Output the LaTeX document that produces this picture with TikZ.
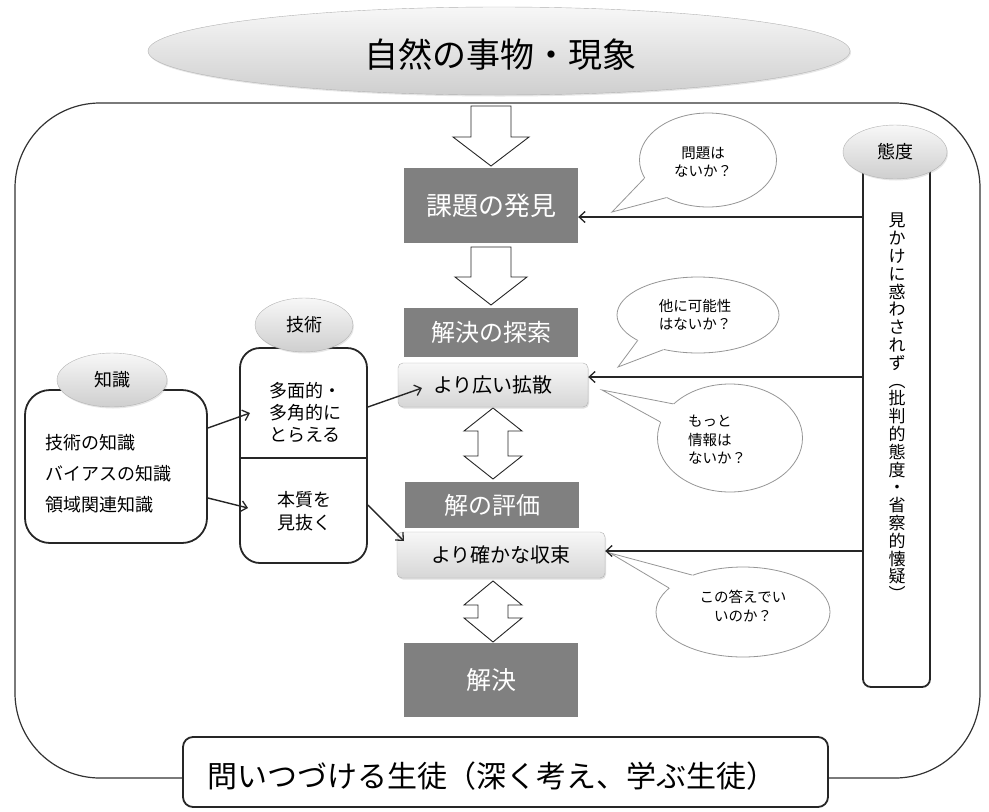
\documentclass[tikz,border=0pt]{standalone}
\usepackage{fontspec}
\setmainfont{Noto Sans CJK JP}
\usetikzlibrary{shapes.geometric,arrows.meta,shadows}
\newcommand\fsz[2]{\fontsize{#1pt}{#2pt}\selectfont}
\definecolor{boxgray}{RGB}{128,128,128}
\definecolor{bubbleline}{RGB}{150,150,150}
\begin{document}
\begin{tikzpicture}[x=1pt,y=-1pt,
  hollow/.style={draw=black!85, line width=0.9pt, fill=white, line join=miter},
  darkbox/.style={rectangle, fill=boxgray, text=white, inner sep=0pt},
  lightbox/.style={rectangle, rounded corners=5pt, draw=gray!60, top color=gray!6, bottom color=gray!32, inner sep=0pt, drop shadow={opacity=0.25,shadow xshift=1pt,shadow yshift=-1.5pt}},
  oval/.style={ellipse, draw=gray!60, top color=gray!6, bottom color=gray!38, inner sep=0pt, drop shadow={opacity=0.2,shadow xshift=1pt,shadow yshift=-1.5pt}},
  roundbox/.style={rectangle, draw=black!85, line width=1.8pt, inner sep=0pt},
  bubble/.style={ellipse, draw=bubbleline, line width=0.8pt, fill=white, inner sep=0pt},
  tailline/.style={draw=bubbleline, line width=0.8pt},
  arr/.style={draw=black!85, line width=1.4pt, -{Straight Barb[length=6pt,width=11pt,line width=1.3pt]}},
  btext/.style={font=\fsz{14.5}{18.5}, inner sep=0pt}
]
\useasboundingbox (0,0) rectangle (989,812);
% outer frame
\node[draw=black!80, line width=1.2pt, rounded corners=85pt, minimum width=965pt, minimum height=675pt, inner sep=0pt] (frame) at (497.5,440.5) {};
% top ellipse
\node[oval, minimum width=702pt, minimum height=88pt] (shizen) at (499,51) {};
\node[font=\fsz{34}{40}, inner sep=0pt] (shizentext) at (500,55) {自然の事物・現象};
% hollow arrows
\draw[hollow] (471,106) -- (511,106) -- (511,137) -- (529,137) -- (491,166) -- (453,137) -- (471,137) -- cycle;
\draw[hollow] (471,247) -- (511,247) -- (511,277) -- (527,277) -- (491,305) -- (455,277) -- (471,277) -- cycle;
\draw[hollow] (493,408) -- (522,431) -- (508,431) -- (508,456) -- (522,456) -- (493,479) -- (464,456) -- (478,456) -- (478,431) -- (464,431) -- cycle;
\draw[hollow] (493,581) -- (522,605) -- (508,605) -- (508,618) -- (522,618) -- (493,642) -- (464,618) -- (478,618) -- (478,605) -- (464,605) -- cycle;
% central boxes
\node[darkbox, minimum width=174pt, minimum height=75pt, font=\fsz{26}{30}] (kadai) at (491,205.5) {課題の発見};
\node[darkbox, minimum width=174pt, minimum height=49pt, font=\fsz{24}{28}] (tansaku) at (491,332.5) {解決の探索};
\node[lightbox, minimum width=190pt, minimum height=44pt, font=\fsz{20}{24}] (kakusan) at (493,385) {より広い拡散};
\node[darkbox, minimum width=174pt, minimum height=46pt, font=\fsz{24}{28}] (hyoka) at (492,505) {解の評価};
\node[lightbox, minimum width=208pt, minimum height=46pt, font=\fsz{20}{24}] (shusoku) at (501,555) {より確かな収束};
\node[darkbox, minimum width=174pt, minimum height=74pt, font=\fsz{25}{29}] (kaiketsu) at (491,680) {解決};
% speech bubbles
\node[bubble, minimum width=137pt, minimum height=94pt] (b1) at (708,160) {};
\node[bubble, minimum width=162pt, minimum height=76pt] (b2) at (698,315) {};
\node[bubble, minimum width=145pt, minimum height=108pt] (b3) at (730,438) {};
\node[bubble, minimum width=174pt, minimum height=90pt] (b4) at (743,612) {};
\coordinate (tip1) at (612,212);
\coordinate (tip2) at (618,367);
\coordinate (tip3) at (602,390);
\coordinate (tip4) at (610,553);
\fill[white] (b1.center) -- (b1.196) -- (tip1) -- (b1.222) -- cycle;
\draw[tailline] (b1.196) -- (tip1) -- (b1.222);
\fill[white] (b2.center) -- (b2.203) -- (tip2) -- (b2.225) -- cycle;
\draw[tailline] (b2.203) -- (tip2) -- (b2.225);
\fill[white] (b3.center) -- (b3.149) -- (tip3) -- (b3.167) -- cycle;
\draw[tailline] (b3.149) -- (tip3) -- (b3.167);
\fill[white] (b4.center) -- (b4.144) -- (tip4) -- (b4.162) -- cycle;
\draw[tailline] (b4.144) -- (tip4) -- (b4.162);
\node[btext, align=center] (t1) at (703,162) {問題は\\ないか？};
\node[btext, align=left] (t2) at (695,315) {他に可能性\\はないか？};
\node[btext, align=left] (t3) at (717,440) {もっと\\情報は\\ないか？};
\node[btext, align=center] (t4) at (743,606) {この答えでい\\いのか？};
% knowledge
\node[roundbox, minimum width=182pt, minimum height=153pt, rounded corners=25pt] (chishikibox) at (116,466.5) {};
\node[oval, minimum width=110pt, minimum height=54pt, font=\fsz{18}{20}] (chishiki) at (112,380) {知識};
\node[anchor=west, font=\fsz{18}{20}, inner sep=0pt] (c1) at (45,443) {技術の知識};
\node[anchor=west, font=\fsz{18}{20}, inner sep=0pt] (c2) at (45,474) {バイアスの知識};
\node[anchor=west, font=\fsz{18}{20}, inner sep=0pt] (c3) at (45,505) {領域関連知識};
% skill
\node[roundbox, minimum width=127pt, minimum height=215pt, rounded corners=20pt] (gijutsubox) at (303.5,455.5) {};
\coordinate (divy) at (0,458);
\draw[line width=1.4pt, draw=black!85] (gijutsubox.west |- divy) -- (gijutsubox.east |- divy);
\node[oval, minimum width=98pt, minimum height=54pt, font=\fsz{18}{20}] (gijutsu) at (304,325) {技術};
\node[align=center, font=\fsz{18}{22}, inner sep=0pt] (g1text) at (305,412) {多面的・\\多角的に\\とらえる};
\node[align=center, font=\fsz{18}{23}, inner sep=0pt] (g2text) at (304,511.5) {本質を\\見抜く};
% attitude
\node[roundbox, minimum width=67pt, minimum height=522pt, rounded corners=8pt] (taidobox) at (896.5,426) {};
\node[oval, minimum width=104pt, minimum height=54pt, font=\fsz{18}{20}] (taido) at (895,152) {態度};
\node[align=center, font=\fsz{17}{17.8}, inner sep=0pt] (taidotext) at (897,407) {見\\か\\け\\に\\惑\\わ\\さ\\れ\\ず\\︵\\批\\判\\的\\態\\度\\・\\省\\察\\的\\懐\\疑\\︶};
% bottom box
\node[roundbox, fill=white, rounded corners=10pt, minimum width=645pt, minimum height=70pt] (student) at (505.5,772) {};
\node[font=\fsz{30}{34}, inner sep=0pt] (studenttext) at (492,776) {問いつづける生徒（深く考え、学ぶ生徒）};
% connectors
\coordinate (ya) at (0,217);
\coordinate (yb) at (0,377);
\coordinate (yc) at (0,551);
\draw[arr] (taidobox.west |- ya) -- (kadai.east |- ya);
\draw[arr] (taidobox.west |- yb) -- (kakusan.east |- yb);
\draw[arr] (taidobox.west |- yc) -- (shusoku.east |- yc);
\coordinate (k1) at (0,428);
\coordinate (k1t) at (250,413);
\coordinate (k2) at (0,498);
\coordinate (k2t) at (248,508);
\draw[arr] (chishikibox.east |- k1) -- (k1t);
\draw[arr] (chishikibox.east |- k2) -- (k2t);
\coordinate (g1) at (0,407);
\coordinate (g1t) at (422,388);
\coordinate (g2) at (0,505);
\coordinate (g2t) at (404,541);
\draw[arr] (gijutsubox.east |- g1) -- (g1t);
\draw[arr] (gijutsubox.east |- g2) -- (g2t);
\end{tikzpicture}
\end{document}
